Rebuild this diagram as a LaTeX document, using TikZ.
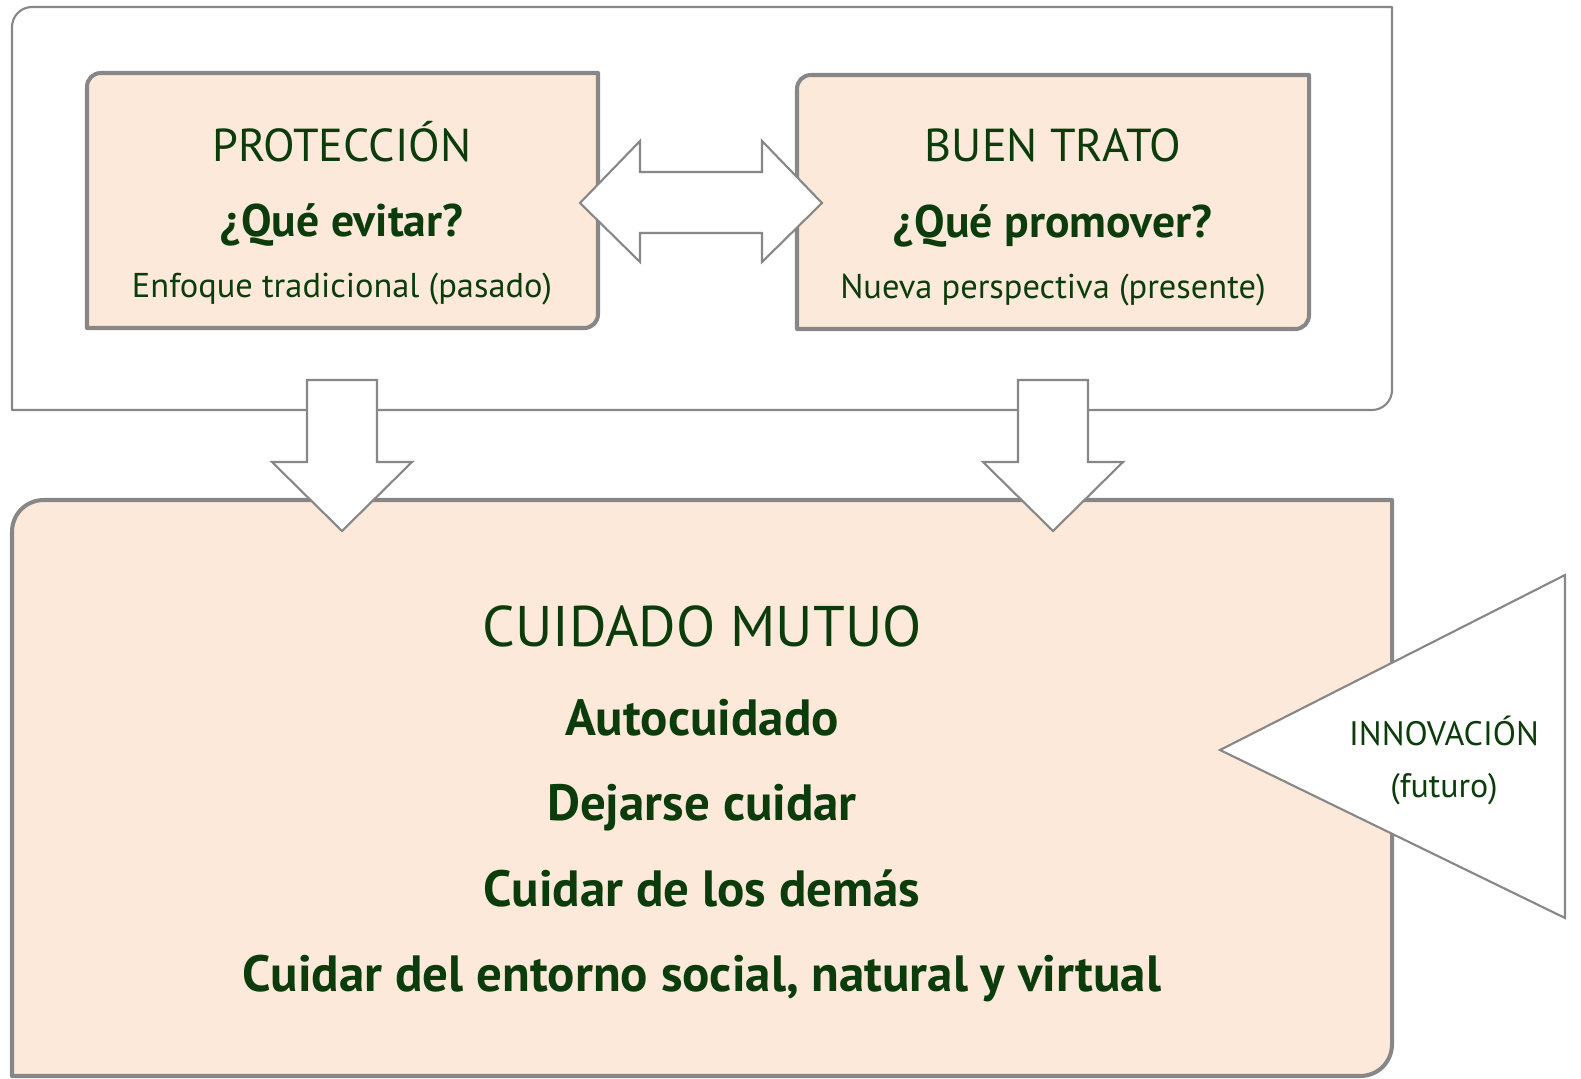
\documentclass[tikz,border=0pt]{standalone}
\usepackage{fontspec}
\setmainfont{PT Sans}
\usepackage{tikz}
\usetikzlibrary{positioning}
\definecolor{boxfill}{HTML}{FDE9DA}
\definecolor{boxline}{HTML}{878787}
\definecolor{textgreen}{HTML}{0C3C0C}

\tikzset{
    thinline/.style={draw=boxline, line width=1.2pt, line join=round},
    thickline/.style={draw=boxline, line width=2.3pt, line join=round},
    blockarrow/.style={thinline, fill=white, line join=miter},
    headtxt/.style={anchor=base, text=textgreen, font=\fontsize{26.3}{30}\selectfont},
    asktxt/.style={anchor=base, text=textgreen, font=\fontsize{26}{30}\selectfont\bfseries},
    notetxt/.style={anchor=base, text=textgreen, font=\fontsize{19.6}{23}\selectfont},
    bigtxt/.style={anchor=base, text=textgreen, font=\fontsize{32.6}{36}\selectfont},
    itemtxt/.style={anchor=base, text=textgreen, font=\fontsize{29}{32}\selectfont\bfseries},
    futtxt/.style={anchor=base, text=textgreen, font=\fontsize{19.3}{22}\selectfont}
}

\begin{document}
\begin{tikzpicture}[x=0.02cm, y=-0.02cm]
    \useasboundingbox (0,0) rectangle (1581,1078);

    % Outer frame (round top left and bottom right)
    \draw[thinline] (12,410) -- (12,27) .. controls (12,16) and (21,7) .. (32,7) -- (1392,7)
        -- (1392,390) .. controls (1392,401) and (1383,410) .. (1372,410) -- cycle;

    % Past and present boxes
    \draw[thickline, fill=boxfill] (87,328) -- (87,87) .. controls (87,79) and (93,73) .. (101,73) -- (598,73)
        -- (598,314) .. controls (598,322) and (592,328) .. (584,328) -- cycle;
    \draw[thickline, fill=boxfill] (797,329) -- (797,89) .. controls (797,81) and (803,75) .. (811,75) -- (1309,75)
        -- (1309,315) .. controls (1309,323) and (1303,329) .. (1295,329) -- cycle;

    % Double arrow between them
    \draw[blockarrow] (580,203) -- (640,141) -- (640,172) -- (762,172) -- (762,141) -- (822,203)
        -- (762,262) -- (762,233) -- (640,233) -- (640,262) -- cycle;

    % Mutual care box
    \draw[thickline, fill=boxfill] (12,1076) -- (12,532) .. controls (12,514) and (26,500) .. (44,500) -- (1392,500)
        -- (1392,1044) .. controls (1392,1062) and (1378,1076) .. (1360,1076) -- cycle;

    % Down arrows
    \foreach \cx in {342,1053} {
        \draw[blockarrow] (\cx-35,380) -- (\cx+35,380) -- (\cx+35,462) -- (\cx+70,462) -- (\cx,531)
            -- (\cx-70,462) -- (\cx-35,462) -- cycle;
    }

    % Innovation triangle
    \draw[blockarrow] (1220,750) -- (1565,575) -- (1565,918) -- cycle;

    % Texts
    \node[headtxt] (protTitle) at (342,161) {PROTECCIÓN};
    \node[asktxt] (protAsk) at (342,236) {¿Qué evitar?};
    \node[notetxt] (protNote) at (342,297) {Enfoque tradicional (pasado)};

    \node[headtxt] (tratoTitle) at (1053,161) {BUEN TRATO};
    \node[asktxt] (tratoAsk) at (1053,237) {¿Qué promover?};
    \node[notetxt] (tratoNote) at (1053,298) {Nueva perspectiva (presente)};

    \node[bigtxt] (mutuoTitle) at (702,646) {CUIDADO MUTUO};
    \node[itemtxt] (mutuoA) at (702,735) {Autocuidado};
    \node[itemtxt] (mutuoB) at (702,820) {Dejarse cuidar};
    \node[itemtxt] (mutuoC) at (702,906) {Cuidar de los demás};
    \node[itemtxt] (mutuoD) at (702,991) {Cuidar del entorno social, natural y virtual};

    \node[futtxt] (innovTitle) at (1444,745) {INNOVACIÓN};
    \node[futtxt] (innovNote) at (1444,797) {(futuro)};
\end{tikzpicture}
\end{document}
